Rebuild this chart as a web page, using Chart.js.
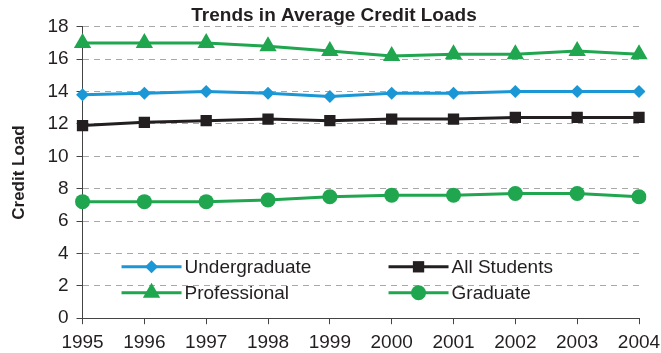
<!DOCTYPE html>
<html lang="en">
<head>
    <meta charset="UTF-8">
    <title>Trends in Average Credit Loads</title>
    <script src="https://cdn.jsdelivr.net/npm/chart.js"></script>
    <style>
        body { margin: 0; background: #ffffff; }
        #grafico { display: block; }
    </style>
</head>
<body>
    <canvas id="grafico" width="661" height="353"></canvas>
<script>
    // anos e cargas medias de creditos por grupo
    const anos = ['1995', '1996', '1997', '1998', '1999', '2000', '2001', '2002', '2003', '2004'];
    const undergraduate = [13.8, 13.9, 14.0, 13.9, 13.7, 13.9, 13.9, 14.0, 14.0, 14.0];
    const allStudents = [11.9, 12.1, 12.2, 12.3, 12.2, 12.3, 12.3, 12.4, 12.4, 12.4];
    const professional = [17.0, 17.0, 17.0, 16.8, 16.5, 16.2, 16.3, 16.3, 16.5, 16.3];
    const graduate = [7.2, 7.2, 7.2, 7.3, 7.5, 7.6, 7.6, 7.7, 7.7, 7.5];
    const yTicks = [0, 2, 4, 6, 8, 10, 12, 14, 16, 18];

    const azul = '#1b97d5';
    const verde = '#1fa64f';
    const preto = '#231f20';
    const fonte = '"Liberation Sans", Arial, sans-serif';

    function serie(label, data, cor, estilo, raio) {
        return {
            label: label,
            data: data,
            borderColor: cor,
            backgroundColor: cor,
            borderWidth: 3,
            pointStyle: estilo,
            pointRadius: raio,
            pointHoverRadius: raio,
            pointBorderWidth: 0,
            tension: 0
        };
    }

    // legenda desenhada dentro da area do grafico, em duas colunas
    const legendaInterna = {
        id: 'legendaInterna',
        afterDatasetsDraw(chart) {
            const ctx = chart.ctx;
            const area = chart.chartArea;
            const colunas = [area.left + 39, area.left + 306];
            const linhas = [area.top + 240, area.top + 266];
            ctx.save();
            ctx.font = '19px ' + fonte;
            ctx.textBaseline = 'middle';
            chart.data.datasets.forEach(function (ds, i) {
                const x = colunas[i % 2];
                const y = linhas[Math.floor(i / 2)];
                ctx.strokeStyle = ds.borderColor;
                ctx.lineWidth = 3;
                ctx.beginPath();
                ctx.moveTo(x, y);
                ctx.lineTo(x + 60, y);
                ctx.stroke();
                ctx.fillStyle = ds.backgroundColor;
                Chart.helpers.drawPoint(ctx, { pointStyle: ds.pointStyle, radius: ds.pointRadius, rotation: 0, borderWidth: 0 }, x + 30, y);
                ctx.fillStyle = preto;
                ctx.fillText(ds.label, x + 63, y + 1);
            });
            ctx.restore();
        }
    };

    const dados = {
        labels: anos,
        datasets: [
            serie('Undergraduate', undergraduate, azul, 'rectRot', 6.5),
            serie('All Students', allStudents, preto, 'rect', 8),
            serie('Professional', professional, verde, 'triangle', 10),
            serie('Graduate', graduate, verde, 'circle', 7.5)
        ]
    };

    const config = {
        type: 'line',
        data: dados,
        plugins: [legendaInterna],
        options: {
            responsive: false,
            animation: false,
            layout: { padding: { left: 9, right: 2, top: 0, bottom: -8 } },
            plugins: {
                legend: { display: false },
                tooltip: { enabled: false },
                title: {
                    display: true,
                    text: 'Trends in Average Credit Loads',
                    color: preto,
                    font: { family: fonte, size: 19, weight: 'bold' },
                    padding: { top: 4, bottom: 0 }
                }
            },
            scales: {
                x: {
                    offset: false,
                    // espaco a direita so para metade do rotulo 2004
                    afterFit(scale) {
                        scale.paddingRight = 22;
                    },
                    grid: {
                        display: true,
                        drawOnChartArea: false,
                        drawTicks: true,
                        tickLength: 6,
                        color: '#444444'
                    },
                    border: { display: true, color: '#444444', width: 1 },
                    ticks: {
                        color: preto,
                        font: { family: fonte, size: 19 },
                        maxRotation: 0,
                        autoSkip: false,
                        padding: 7
                    }
                },
                y: {
                    min: 0,
                    max: 18,
                    afterBuildTicks(scale) {
                        scale.ticks = yTicks.map(function (v) { return { value: v }; });
                    },
                    grid: {
                        color: '#a8a8a8',
                        lineWidth: 1,
                        drawTicks: true,
                        tickLength: 6,
                        tickColor: '#444444'
                    },
                    border: { display: true, color: '#444444', width: 1, dash: [6, 5] },
                    ticks: {
                        color: preto,
                        font: { family: fonte, size: 19 },
                        padding: 8
                    },
                    title: {
                        display: true,
                        text: 'Credit Load',
                        color: preto,
                        font: { family: fonte, size: 17, weight: 'bold' },
                        padding: { top: 0, bottom: 10 }
                    }
                }
            }
        }
    };

    new Chart(document.getElementById('grafico'), config);
</script>
</body>
</html>
